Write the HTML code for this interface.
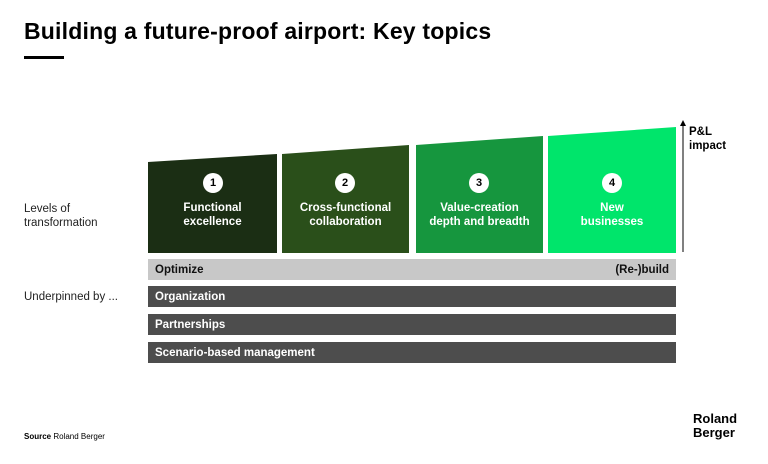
<!DOCTYPE html><html><head><style>
body{margin:0;width:768px;height:464px;background:#fff;font-family:"Liberation Sans",sans-serif;position:relative;overflow:hidden}
.a{position:absolute}
.t{color:#fff;font-weight:bold;font-size:11.5px;text-align:center;line-height:14px}
.c{width:20px;height:20px;border-radius:50%;background:#fff;color:#000;font-weight:bold;font-size:11px;line-height:20px;text-align:center}
.bar{position:absolute;left:148px;width:528px;height:21px;background:#4d4d4d;color:#fff;font-weight:bold;font-size:11.5px;line-height:23px;padding-left:7px;box-sizing:border-box}
</style></head><body>
<div class="a" style="left:24px;top:18px;font-size:23px;font-weight:bold;color:#000;letter-spacing:0.2px">Building a future-proof airport: Key topics</div>
<div class="a" style="left:24px;top:56px;width:40px;height:3px;background:#000"></div>
<svg class="a" style="left:0;top:0" width="768" height="464">
<polygon points="148,162 277,154 277,253 148,253" fill="#1b2e14"/>
<polygon points="282,154 409,145 409,253 282,253" fill="#2a4f1a"/>
<polygon points="416,145 543,136 543,253 416,253" fill="#16963e"/>
<polygon points="548,136 676,127 676,253 548,253" fill="#00e56b"/>
<line x1="683" y1="252" x2="683" y2="124" stroke="#000" stroke-width="1"/>
<polygon points="680,126 683,120 686,126" fill="#000"/>
</svg>
<div class="a" style="left:689px;top:125px;font-size:11.5px;font-weight:bold;line-height:14px">P&amp;L<br>impact</div>
<div class="a c" style="left:203px;top:173px">1</div>
<div class="a c" style="left:335px;top:173px">2</div>
<div class="a c" style="left:469px;top:173px">3</div>
<div class="a c" style="left:602px;top:173px">4</div>
<div class="a t" style="left:148px;width:129px;top:201px">Functional<br>excellence</div>
<div class="a t" style="left:282px;width:127px;top:201px">Cross-functional<br>collaboration</div>
<div class="a t" style="left:416px;width:127px;top:201px">Value-creation<br>depth and breadth</div>
<div class="a t" style="left:548px;width:128px;top:201px">New<br>businesses</div>
<div class="a" style="left:24px;top:202px;font-size:11.5px;line-height:14px;color:#222">Levels of<br>transformation</div>
<div class="bar" style="top:259px;background:#c8c8c8;color:#111">Optimize<span style="position:absolute;right:7px">(Re-)build</span></div>
<div class="a" style="left:24px;top:291px;font-size:11.5px;color:#222">Underpinned by ...</div>
<div class="bar" style="top:286px">Organization</div>
<div class="bar" style="top:314px">Partnerships</div>
<div class="bar" style="top:342px">Scenario-based management</div>
<div class="a" style="left:24px;top:432px;font-size:8px;color:#000"><b>Source</b> Roland Berger</div>
<div class="a" style="left:693px;top:412px;font-size:13px;font-weight:bold;line-height:14px;color:#000">Roland<br>Berger</div>
</body></html>
